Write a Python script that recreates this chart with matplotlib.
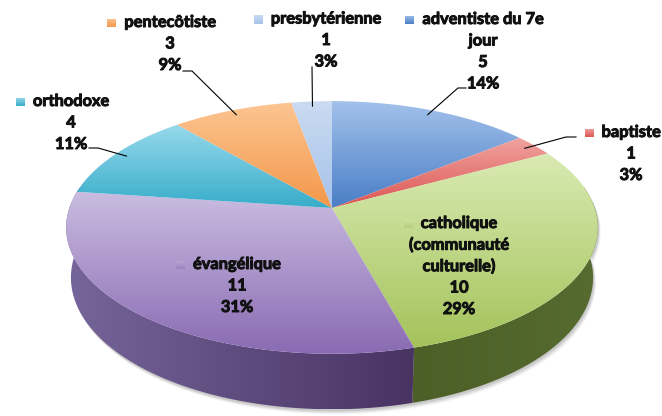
import numpy as np
import matplotlib
matplotlib.use("Agg")
import matplotlib.pyplot as plt
import matplotlib.patheffects as pe
from matplotlib.patches import Polygon
from matplotlib.colors import to_rgb

plt.rcParams["font.family"] = ["Lato", "DejaVu Sans"]

# data, clockwise from 12 o'clock
categories = ["adventiste du 7e\njour", "baptiste", "catholique\n(communauté\nculturelle)",
              "évangélique", "orthodoxe", "pentecôtiste", "presbytérienne"]
counts = [5, 1, 10, 11, 4, 3, 1]

# colours (light top, dark bottom of the gradient)
top_light = ["#a2c1ea", "#f0a3a0", "#d9eab2", "#c9bce0", "#97d9ec", "#fcc592", "#cadbf1"]
top_dark = ["#4a7ec7", "#dc5652", "#a4c35b", "#8a6bb3", "#38adca", "#f3984a", "#a6c2ea"]
side_left = ["#3b6199", "#9a3a37", "#4b5f26", "#76659a", "#2a8099", "#b86a2c", "#7890b5"]
side_right = ["#2e4f82", "#7c2c2a", "#566b30", "#483363", "#216b80", "#9a5622", "#617aa0"]

# label layout: centre x, first line y, leader start, elbow
label_xy = [(483, 20), (631, 133), (459, 224), (237, 265), (71, 102), (170, 23), (326, 19.5)]
leader_start = [(466, 88), (576, 137), None, None, (89, 148), (183, 71), (312, 67)]
leader_elbow = [(458, 88), (566, 137), None, None, (98, 148), (192, 71), None]
inside_label = [False, False, True, True, False, False, False]
LINE_SP = 21.5

# 3d view of the pie (pixel space)
CX, CY = 332, 208
TILT = np.radians(62)
DIST = 5.737
FOCAL = 1507
THICK = 0.218


def project(u, v, h=0.0):
    s, c = np.sin(TILT), np.cos(TILT)
    Y = v * c - h * s
    Z = DIST + v * s + h * c
    return CX + FOCAL * u / Z, CY - FOCAL * Y / Z


def rim(a1, a2, h=0.0, r=1.0, n=120):
    a = np.radians(np.linspace(a1, a2, n))
    x, y = project(r * np.sin(a), r * np.cos(a), h)
    return np.column_stack([x, y])


def gradient_fill(ax, pts, c1, c2, vertical=True, zorder=2, alpha=1.0):
    patch = Polygon(pts, closed=True, facecolor="none", edgecolor="none")
    ax.add_patch(patch)
    c1, c2 = np.array(to_rgb(c1)), np.array(to_rgb(c2))
    t = np.linspace(0, 1, 64)[:, None]
    grad = c1 * (1 - t) + c2 * t
    if vertical:
        img = grad[:, None, :]
    else:
        img = grad[None, :, :]
    x0, y0 = pts.min(axis=0)
    x1, y1 = pts.max(axis=0)
    im = ax.imshow(img, extent=(x0, x1, y1, y0), origin="upper", aspect="auto",
                   interpolation="bilinear", zorder=zorder, alpha=alpha)
    im.set_clip_path(patch)


fig = plt.figure(figsize=(6.62, 4.16), dpi=100)
ax = fig.add_axes([0, 0, 1, 1])
ax.axis("off")

total = sum(counts)
bounds = np.concatenate([[0], np.cumsum(counts)]) / total * 360

# soft shadow under the pie (front only)
base = np.vstack([rim(85, 275), rim(275, 85, THICK)])
for off, al in [(5, 0.04), (4, 0.05), (3, 0.06), (2, 0.08)]:
    sh = Polygon(base + [off * 0.6, off], closed=True, facecolor="#000000",
                 edgecolor="none", alpha=al, zorder=1)
    ax.add_patch(sh)

# side walls (front half only shows)
for i in range(len(counts)):
    a1 = max(bounds[i], 80)
    a2 = min(bounds[i + 1], 280)
    if a2 <= a1:
        continue
    pts = np.vstack([rim(a1, a2), rim(a2, a1, THICK)])
    gradient_fill(ax, pts, side_left[i], side_right[i], vertical=False, zorder=2)

# top faces
for i in range(len(counts)):
    apex = np.array(project(0.0, 0.0))
    pts = np.vstack([apex, rim(bounds[i], bounds[i + 1])])
    gradient_fill(ax, pts, top_light[i], top_dark[i], vertical=True, zorder=3)

ax.set_xlim(0, 662)
ax.set_ylim(416, 0)

# labels
fig.canvas.draw()
renderer = fig.canvas.get_renderer()
inv = ax.transData.inverted()
bolder = [pe.withStroke(linewidth=0.7, foreground="#111111")]
for i, name in enumerate(categories):
    pct = "%d%%" % round(100 * counts[i] / total)
    lines = name.split("\n") + [str(counts[i]), pct]
    x, y = label_xy[i]
    first = None
    for j, line in enumerate(lines):
        t = ax.text(x, y + j * LINE_SP, line, ha="center", va="center", fontsize=11.8,
                    fontweight="bold", color="#111111", zorder=6, path_effects=bolder)
        if j == 0:
            first = t
    bb = first.get_window_extent(renderer)
    left = inv.transform((bb.x0, bb.y0))[0]
    kx = left - 8 - 9
    key_alpha = 0.45 if inside_label[i] else 1.0
    key = np.array([[kx, y - 4.5], [kx + 9, y - 4.5], [kx + 9, y + 4.5], [kx, y + 4.5]])
    gradient_fill(ax, key, top_light[i], top_dark[i], vertical=True, zorder=6, alpha=key_alpha)

    if leader_start[i] is not None:
        mid = np.radians((bounds[i] + bounds[i + 1]) / 2)
        ex, ey = project(0.95 * np.sin(mid), 0.95 * np.cos(mid))
        path = [leader_start[i]]
        if leader_elbow[i] is not None:
            path.append(leader_elbow[i])
        path.append((ex, ey))
        path = np.array(path)
        ax.plot(path[:, 0], path[:, 1], color="#000000", linewidth=0.8, zorder=5)

ax.set_xlim(0, 662)
ax.set_ylim(416, 0)
fig.savefig("out.png", dpi=100)
